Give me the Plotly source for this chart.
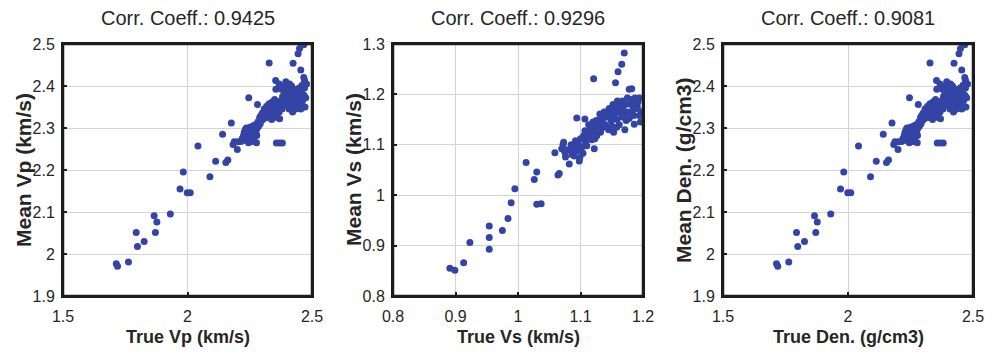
import plotly.graph_objects as go

# ---- data: true vs. mean estimated properties ----
vp_true = [
    1.714, 1.719, 1.763, 1.794, 1.799, 1.826, 1.866, 1.877, 1.871, 1.931,
    1.983, 1.970, 1.999, 2.011, 2.042, 2.090, 2.113, 2.141, 2.154, 2.162,
    2.176, 2.183, 2.188, 2.202, 2.200, 2.246, 2.281, 2.277, 2.328, 2.357,
    2.370, 2.381, 2.354, 2.424, 2.444, 2.450, 2.467, 2.455, 2.467, 2.470,
    2.215, 2.220, 2.225, 2.228, 2.232, 2.236, 2.240, 2.242, 2.245, 2.248,
    2.250, 2.252, 2.255, 2.258, 2.260, 2.262, 2.265, 2.268, 2.270, 2.272,
    2.275, 2.278, 2.280, 2.283, 2.286, 2.290, 2.292, 2.295, 2.298, 2.245,
    2.235, 2.260, 2.230,
    2.300, 2.305, 2.308, 2.310, 2.315, 2.318, 2.320, 2.322, 2.325, 2.328,
    2.330, 2.333, 2.336, 2.338, 2.340, 2.342, 2.345, 2.348, 2.350, 2.352,
    2.355, 2.358, 2.360, 2.362, 2.365, 2.368, 2.370, 2.372, 2.375, 2.378,
    2.380, 2.382,
    2.385, 2.388, 2.390, 2.393, 2.395, 2.398, 2.400, 2.402, 2.405, 2.408,
    2.410, 2.412, 2.415, 2.418, 2.420, 2.422, 2.425, 2.428, 2.430, 2.432,
    2.435, 2.438, 2.440, 2.443, 2.445, 2.448, 2.450, 2.452, 2.455, 2.458,
    2.462, 2.465, 2.468, 2.472, 2.475, 2.478, 2.470, 2.460, 2.410, 2.395,
    2.355, 2.368,
]
vp_mean = [
    1.977, 1.971, 1.981, 2.051, 2.018, 2.030, 2.091, 2.076, 2.051, 2.095,
    2.195, 2.155, 2.146, 2.146, 2.257, 2.184, 2.221, 2.285, 2.218, 2.224,
    2.312, 2.261, 2.267, 2.267, 2.249, 2.372, 2.356, 2.265, 2.455, 2.264,
    2.264, 2.264, 2.413, 2.454, 2.477, 2.489, 2.498, 2.438, 2.420, 2.413,
    2.268, 2.275, 2.282, 2.290, 2.296, 2.300, 2.288, 2.280, 2.275, 2.292,
    2.302, 2.285, 2.272, 2.280, 2.295, 2.305, 2.288, 2.278, 2.298, 2.308,
    2.290, 2.282, 2.300, 2.315, 2.305, 2.325, 2.310, 2.330, 2.318, 2.265,
    2.270, 2.268, 2.278,
    2.335, 2.322, 2.345, 2.330, 2.340, 2.352, 2.325, 2.338, 2.348, 2.358,
    2.333, 2.345, 2.355, 2.320, 2.362, 2.340, 2.350, 2.330, 2.368, 2.345,
    2.355, 2.335, 2.325, 2.348, 2.358, 2.338, 2.322, 2.350, 2.365, 2.392,
    2.345, 2.375,
    2.360, 2.385, 2.400, 2.370, 2.355, 2.390, 2.378, 2.362, 2.395, 2.345,
    2.370, 2.385, 2.352, 2.400, 2.365, 2.338, 2.380, 2.392, 2.355, 2.372,
    2.345, 2.388, 2.362, 2.350, 2.378, 2.395, 2.358, 2.372, 2.345, 2.385,
    2.365, 2.350, 2.378, 2.350, 2.372, 2.405, 2.395, 2.402, 2.405, 2.410,
    2.392, 2.405,
]

vs_true = [
    0.891, 0.899, 0.913, 0.923, 0.954, 0.954, 0.954, 0.975, 0.984, 0.989,
    0.995, 1.013, 1.026, 1.030, 1.030, 1.037,
    1.064, 1.066, 1.059, 1.070, 1.073, 1.076, 1.082, 1.086,
    1.094, 1.107, 1.122, 1.121, 1.123,
    1.170, 1.166, 1.160, 1.156, 1.178, 1.187, 1.184,
    1.107, 1.115, 1.117, 1.125, 1.131, 1.133, 1.138, 1.144, 1.149, 1.152,
    1.154, 1.159, 1.158, 1.165, 1.167, 1.170, 1.173, 1.175, 1.181, 1.183,
    1.188, 1.191, 1.194, 1.196, 1.186, 1.194, 1.182,
    1.080, 1.085, 1.088, 1.090, 1.092, 1.095, 1.097, 1.099, 1.100, 1.102,
    1.104, 1.105, 1.108, 1.110, 1.112, 1.113, 1.116, 1.118, 1.120, 1.122,
    1.124, 1.126, 1.128, 1.130, 1.132, 1.134, 1.136, 1.138, 1.140, 1.142,
    1.145, 1.146, 1.148, 1.150, 1.151, 1.153, 1.156, 1.158, 1.160, 1.162,
    1.163, 1.166, 1.168, 1.171, 1.172, 1.176, 1.178, 1.180, 1.185, 1.189,
    1.192, 1.197, 1.110, 1.098, 1.090, 1.075, 1.072,
]
vs_mean = [
    0.855, 0.851, 0.866, 0.906, 0.939, 0.916, 0.893, 0.930, 0.954, 0.985,
    1.013, 1.065, 1.031, 1.046, 0.982, 0.983,
    1.040, 1.043, 1.084, 1.092, 1.105, 1.076, 1.062, 1.081,
    1.153, 1.151, 1.092, 1.231, 1.112,
    1.282, 1.260, 1.245, 1.223, 1.210, 1.193, 1.180,
    1.128, 1.122, 1.138, 1.148, 1.161, 1.132, 1.154, 1.167, 1.148, 1.180,
    1.158, 1.187, 1.135, 1.174, 1.187, 1.161, 1.148, 1.193, 1.180, 1.167,
    1.187, 1.174, 1.158, 1.145, 1.141, 1.193, 1.211,
    1.090, 1.100, 1.085, 1.095, 1.108, 1.088, 1.100, 1.075, 1.112, 1.095,
    1.083, 1.118, 1.105, 1.125, 1.115, 1.140, 1.130, 1.110, 1.145, 1.125,
    1.135, 1.118, 1.140, 1.150, 1.125, 1.145, 1.135, 1.165, 1.140, 1.155,
    1.130, 1.172, 1.160, 1.138, 1.168, 1.125, 1.175, 1.150, 1.165, 1.140,
    1.180, 1.155, 1.170, 1.130, 1.180, 1.165, 1.152, 1.190, 1.158, 1.172,
    1.185, 1.165, 1.098, 1.068, 1.078, 1.085, 1.100,
]

den_true = list(vp_true)
den_mean = list(vp_mean)

titles = ["Corr. Coeff.: 0.9425", "Corr. Coeff.: 0.9296", "Corr. Coeff.: 0.9081"]
x_labels = ["True Vp (km/s)", "True Vs (km/s)", "True Den. (g/cm3)"]
y_labels = ["Mean Vp (km/s)", "Mean Vs (km/s)", "Mean Den. (g/cm3)"]
x_ranges = [[1.5, 2.5], [0.8, 1.2], [1.5, 2.5]]
y_ranges = [[1.9, 2.5], [0.8, 1.3], [1.9, 2.5]]
x_dticks = [0.5, 0.1, 0.5]
y_dticks = [0.1, 0.1, 0.1]

series = [(vp_true, vp_mean), (vs_true, vs_mean), (den_true, den_mean)]

# page geometry (pixels) and the inner plotting region set by the margins
W, H = 1000, 355
ML, MR, MT, MB = 20, 20, 30, 40
PW, PH = W - ML - MR, H - MT - MB
x_px = [[63, 312], [393, 643], [723, 973]]
y_top, y_bot = 44, 296


def px_x(p):
    return (p - ML) / PW


def px_y(p):
    return (H - MB - p) / PH


y_domain = [px_y(y_bot), px_y(y_top)]

FONT = "Liberation Sans, Arial, Helvetica, sans-serif"
TXT = "#262626"
AXC = "#1c1c1c"
MARK = "#3444a6"

fig = go.Figure()
annotations = []
shapes = []
for i, ((xs, ys), xp) in enumerate(zip(series, x_px)):
    n = "" if i == 0 else str(i + 1)
    xr, yr = "x" + n, "y" + n
    fig.add_trace(go.Scatter(
        x=xs, y=ys, mode="markers",
        marker=dict(color=MARK, size=7, line=dict(width=0)),
        xaxis=xr, yaxis=yr, showlegend=False,
    ))
    common = dict(
        showline=True, linecolor=AXC, linewidth=2, mirror=True,
        ticks="inside", ticklen=4, tickwidth=1.5, tickcolor=AXC,
        showgrid=True, gridcolor="#d4d4d4", gridwidth=1,
        zeroline=False, tickfont=dict(family=FONT, size=16, color=TXT),
    )
    fig.layout["xaxis" + n] = go.layout.XAxis(
        common, domain=[px_x(xp[0]), px_x(xp[1])], range=x_ranges[i],
        dtick=x_dticks[i], tick0=x_ranges[i][0], anchor=yr,
        ticklabelstandoff=5,
    )
    fig.layout["yaxis" + n] = go.layout.YAxis(
        common, domain=y_domain, range=y_ranges[i],
        dtick=y_dticks[i], tick0=y_ranges[i][0], anchor=xr,
        ticklabelstandoff=3,
    )
    # box frame around each axes
    shapes.append(dict(type="rect", xref=xr + " domain", yref=yr + " domain",
                       x0=0, x1=1, y0=0, y1=1, layer="above",
                       line=dict(color=AXC, width=2.5)))

    cx = px_x((xp[0] + xp[1]) / 2)
    annotations.append(dict(
        text=titles[i], x=cx, y=px_y(18), xref="paper", yref="paper",
        showarrow=False, font=dict(family=FONT, size=20, color=TXT),
        xanchor="center", yanchor="middle",
    ))
    annotations.append(dict(
        text="<b>" + x_labels[i] + "</b>", x=cx, y=px_y(337),
        xref="paper", yref="paper", showarrow=False,
        font=dict(family=FONT, size=18, color=TXT),
        xanchor="center", yanchor="middle",
    ))
    annotations.append(dict(
        text="<b>" + y_labels[i] + "</b>", x=px_x(xp[0] - 40),
        y=(y_domain[0] + y_domain[1]) / 2, xref="paper", yref="paper",
        showarrow=False, textangle=-90,
        font=dict(family=FONT, size=21, color=TXT),
        xanchor="center", yanchor="middle",
    ))

fig.update_layout(
    width=W, height=H, margin=dict(l=ML, r=MR, t=MT, b=MB, autoexpand=False),
    paper_bgcolor="white", plot_bgcolor="white",
    annotations=annotations, shapes=shapes,
)

fig.write_html("out.html")
